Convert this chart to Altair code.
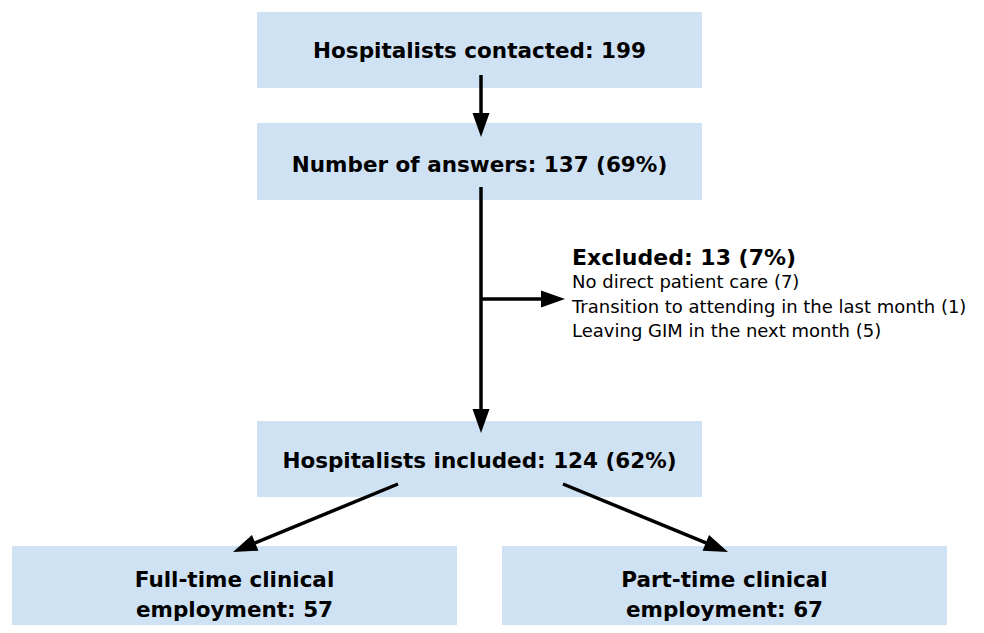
import math
import altair as alt
import pandas as pd

# ---- content ----
box_labels = [
    ["Hospitalists contacted: 199"],
    ["Number of answers: 137 (69%)"],
    ["Hospitalists included: 124 (62%)"],
    ["Full-time clinical", "employment: 57"],
    ["Part-time clinical", "employment: 67"],
]
excluded_title = "Excluded: 13 (7%)"
excluded_reasons = [
    "No direct patient care (7)",
    "Transition to attending in the last month (1)",
    "Leaving GIM in the next month (5)",
]

# ---- layout (pixel coordinates of the figure) ----
box_x0 = [257, 257, 257, 12, 502]
box_x1 = [702, 702, 702, 457, 947]
box_y0 = [12, 123, 421, 546, 546]
box_y1 = [88, 200, 497, 660, 660]
box_baselines = [[58], [172], [468], [587, 617]]
box_baselines.append([587, 617])

excl_x = 572
excl_title_y = 265
excl_reason_y = [288, 313, 337]

edge_from = [(481, 75), (481, 187), (481, 299), (398, 484), (563, 484)]
edge_tip = [(481, 137), (481, 433), (565, 299), (233, 552), (728, 552)]

BOX_COLOR = "#cfe2f3"
FONT = "DejaVu Sans"
HEAD_LEN = 24
HEAD_HALF = 8.5

# ---- build tables ----
boxes = pd.DataFrame({"x0": box_x0, "x1": box_x1, "y0": box_y0, "y1": box_y1})

text_rows = []
for lines, x0, x1, bls in zip(box_labels, box_x0, box_x1, box_baselines):
    for line, bl in zip(lines, bls):
        text_rows.append({"label": line, "x": (x0 + x1) / 2, "y": bl})
box_text = pd.DataFrame(text_rows)

excl_bold = pd.DataFrame({"label": [excluded_title], "x": [excl_x], "y": [excl_title_y]})
excl_reg = pd.DataFrame({"label": excluded_reasons, "x": [excl_x] * 3, "y": excl_reason_y})

lines_rows, heads_rows = [], []
for (fx, fy), (tx, ty) in zip(edge_from, edge_tip):
    dx, dy = tx - fx, ty - fy
    L = math.hypot(dx, dy)
    ux, uy = dx / L, dy / L
    lines_rows.append({"x": fx, "y": fy, "x2": tx - ux * 12, "y2": ty - uy * 12})
    ang = math.degrees(math.atan2(-ux, uy)) % 360
    heads_rows.append({"x": tx, "y": ty, "angle": ang})
edges = pd.DataFrame(lines_rows)
heads = pd.DataFrame(heads_rows)

xs = alt.Scale(domain=[8, 976], nice=False, zero=False)
ys = alt.Scale(domain=[8, 625], nice=False, zero=False, reverse=True)

rects = alt.Chart(boxes).mark_rect(color=BOX_COLOR, clip=True).encode(
    x=alt.X("x0:Q", scale=xs, axis=None),
    x2="x1:Q",
    y=alt.Y("y0:Q", scale=ys, axis=None),
    y2="y1:Q",
)

rules = alt.Chart(edges).mark_rule(color="black", strokeWidth=3.5).encode(
    x=alt.X("x:Q", scale=xs, axis=None),
    y=alt.Y("y:Q", scale=ys, axis=None),
    x2="x2:Q",
    y2="y2:Q",
)

h = HEAD_HALF / HEAD_LEN
head_path = f"M0,0L{-h:.4f},-1L{h:.4f},-1Z"
arrowheads = alt.Chart(heads).mark_point(
    shape=head_path, filled=True, color="black", opacity=1,
    size=(2 * HEAD_LEN) ** 2, strokeWidth=0,
).encode(
    x=alt.X("x:Q", scale=xs, axis=None),
    y=alt.Y("y:Q", scale=ys, axis=None),
    angle=alt.Angle("angle:Q", scale=None),
)

btext = alt.Chart(box_text).mark_text(
    font=FONT, fontSize=21.5, fontWeight="bold", color="black",
    align="center", baseline="alphabetic",
).encode(
    x=alt.X("x:Q", scale=xs, axis=None),
    y=alt.Y("y:Q", scale=ys, axis=None),
    text="label:N",
)

etitle = alt.Chart(excl_bold).mark_text(
    font=FONT, fontSize=22, fontWeight="bold", color="black",
    align="left", baseline="alphabetic",
).encode(
    x=alt.X("x:Q", scale=xs, axis=None),
    y=alt.Y("y:Q", scale=ys, axis=None),
    text="label:N",
)

ereasons = alt.Chart(excl_reg).mark_text(
    font=FONT, fontSize=18, color="black",
    align="left", baseline="alphabetic",
).encode(
    x=alt.X("x:Q", scale=xs, axis=None),
    y=alt.Y("y:Q", scale=ys, axis=None),
    text="label:N",
)

chart = alt.layer(rects, rules, arrowheads, btext, etitle, ereasons).properties(
    width=968, height=617, padding=0, autosize="none", background="white",
).configure_view(stroke=None)

chart.save("out.html", embed_options={"renderer": "svg", "actions": False})
